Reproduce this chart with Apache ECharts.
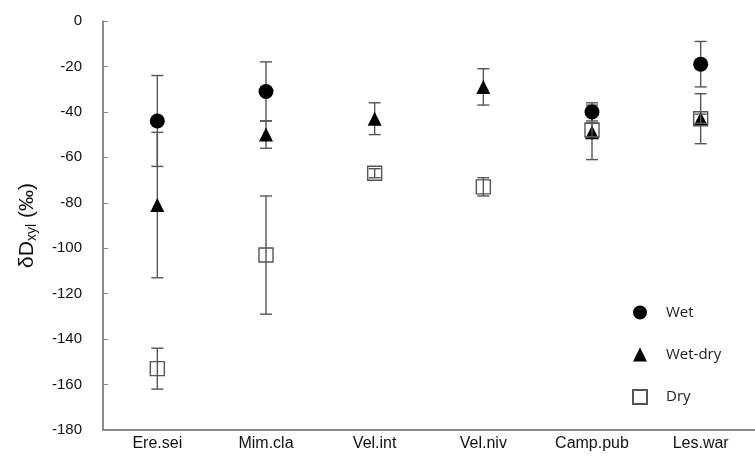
<!DOCTYPE html>
<html>
<head>
<meta charset="utf-8">
<script src="https://cdn.jsdelivr.net/npm/echarts@6/dist/echarts.min.js"></script>
<style>
html, body { margin: 0; padding: 0; background: #fff; }
#chart { width: 755px; height: 463px; }
</style>
</head>
<body>
<div id="chart"></div>
<script>
var species = ['Ere.sei', 'Mim.cla', 'Vel.int', 'Vel.niv', 'Camp.pub', 'Les.war'];

// mean values (‰) and error half-widths, '-' = no data
var wetMean = [-44, -31, '-', '-', -40, -19];
var wetErr = [20, 13, '-', '-', 4, 10];
var wetDryMean = [-81, -50, -43, -29, -49, -43];
var wetDryErr = [32, 6, 7, 8, 12, 11];
var dryMean = [-153, -103, -67, -73, -48, -43];
var dryErr = [9, 26, 2, 4, 3, 2];

var yTicks = { min: -180, max: 0, step: 20 };

var chart = echarts.init(document.getElementById('chart'));

function errData(mean, err) {
	var out = [];
	for (var i = 0; i < mean.length; i++) {
		if (mean[i] === '-') continue;
		out.push([i, mean[i], err[i]]);
	}
	return out;
}

function renderErr(params, api) {
	var x = api.value(0), y = api.value(1), e = api.value(2);
	var hi = api.coord([x, y + e]);
	var lo = api.coord([x, y - e]);
	var cap = 6;
	var st = { stroke: '#555', lineWidth: 1.4 };
	return {
		type: 'group',
		children: [
			{ type: 'line', shape: { x1: hi[0], y1: hi[1], x2: lo[0], y2: lo[1] }, style: st },
			{ type: 'line', shape: { x1: hi[0] - cap, y1: hi[1], x2: hi[0] + cap, y2: hi[1] }, style: st },
			{ type: 'line', shape: { x1: lo[0] - cap, y1: lo[1], x2: lo[0] + cap, y2: lo[1] }, style: st }
		]
	};
}

var option = {
	animation: false,
	backgroundColor: '#fff',
	grid: {
		left: 103,
		top: 21,
		width: 652,
		height: 409,
		containLabel: false
	},
	legend: {
		orient: 'vertical',
		left: 627,
		top: 300,
		itemGap: 27,
		itemWidth: 14,
		itemHeight: 14,
		data: ['Wet', 'Wet-dry', 'Dry'],
		textStyle: { fontFamily: 'Open Sans', fontSize: 15, color: '#222', padding: [0, 0, 0, 14] }
	},
	xAxis: {
		type: 'category',
		data: species,
		boundaryGap: true,
		axisLine: { onZero: false, lineStyle: { color: '#666', width: 1.5 } },
		axisTick: { show: false },
		axisLabel: { fontFamily: 'Liberation Sans', fontSize: 16, color: '#111', margin: 6 }
	},
	yAxis: {
		type: 'value',
		min: yTicks.min,
		max: yTicks.max,
		interval: yTicks.step,
		name: '{a|δD}{s|xyl}{a| (‰)}',
		nameLocation: 'middle',
		nameRotate: 90,
		nameGap: 64,
		nameTextStyle: {
			rich: {
				a: { fontFamily: 'Liberation Sans', fontSize: 21, color: '#111' },
				s: { fontFamily: 'Liberation Sans', fontSize: 14, color: '#111', verticalAlign: 'bottom', padding: [9, 0, 0, 0] }
			}
		},
		axisLine: { show: true, lineStyle: { color: '#666', width: 1.5 } },
		axisTick: { show: true, inside: true, length: 5, lineStyle: { color: '#888' } },
		splitLine: { show: false },
		axisLabel: { fontFamily: 'Liberation Sans', fontSize: 15, color: '#111', margin: 21 }
	},
	series: [
		{
			type: 'custom',
			renderItem: renderErr,
			data: errData(wetMean, wetErr),
			z: 1,
			silent: true
		},
		{
			type: 'custom',
			renderItem: renderErr,
			data: errData(wetDryMean, wetDryErr),
			z: 1,
			silent: true
		},
		{
			type: 'custom',
			renderItem: renderErr,
			data: errData(dryMean, dryErr),
			z: 3,
			silent: true
		},
		{
			name: 'Wet',
			type: 'scatter',
			data: wetMean,
			symbol: 'circle',
			symbolSize: 15,
			itemStyle: { color: '#000', opacity: 1 },
			z: 2
		},
		{
			name: 'Wet-dry',
			type: 'scatter',
			data: wetDryMean,
			symbol: 'triangle',
			symbolSize: 14,
			itemStyle: { color: '#000', opacity: 1 },
			z: 2
		},
		{
			name: 'Dry',
			type: 'scatter',
			data: dryMean,
			symbol: 'rect',
			symbolSize: 14,
			itemStyle: { color: 'rgba(255,255,255,0)', borderColor: '#555', borderWidth: 1.4, opacity: 1 },
			z: 2
		}
	]
};

chart.setOption(option);
</script>
</body>
</html>
